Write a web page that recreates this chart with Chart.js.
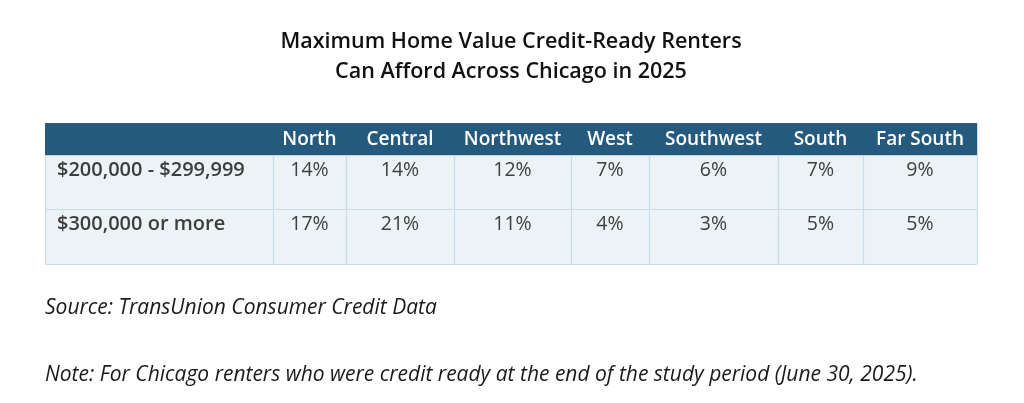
<!DOCTYPE html>
<html>
<head>
<meta charset="utf-8">
<script src="https://cdn.jsdelivr.net/npm/chart.js@4.4.1/dist/chart.umd.min.js"></script>
<style>
  html, body { margin: 0; padding: 0; background: #ffffff; }
  #wrap { width: 1024px; height: 403px; }
</style>
</head>
<body>
<div id="wrap"><canvas id="c" width="1024" height="403"></canvas></div>
<script>
// ---- data ----
const titleLines = ['Maximum Home Value Credit-Ready Renters', 'Can Afford Across Chicago in 2025'];
const regions = ['North', 'Central', 'Northwest', 'West', 'Southwest', 'South', 'Far South'];
const rowLabels = ['$200,000 - $299,999', '$300,000 or more'];
const values200to299 = [14, 14, 12, 7, 6, 7, 9];
const values300plus = [17, 21, 11, 4, 3, 5, 5];
const sourceText = 'Source: TransUnion Consumer Credit Data';
const noteText = 'Note: For Chicago renters who were credit ready at the end of the study period (June 30, 2025).';

// ---- layout (table units) ----
const colWidths = [228, 73, 108, 117, 78, 129, 85, 114];
const rowHeights = [32, 54, 55];
const colEdges = [0];
colWidths.forEach(w => colEdges.push(colEdges[colEdges.length - 1] + w));
const rowEdges = [0];
rowHeights.forEach(h => rowEdges.push(rowEdges[rowEdges.length - 1] + h));
const tableW = colEdges[colEdges.length - 1];
const tableH = rowEdges[rowEdges.length - 1];

const FONT = '"Open Sans", Roboto, sans-serif';
const seriesRows = [values200to299, values300plus];

const datasets = seriesRows.map((vals, r) => ({
  label: rowLabels[r],
  data: vals.map((v, i) => ({ x: (colEdges[i + 1] + colEdges[i + 2]) / 2, y: rowEdges[r + 1] + 15.5, v: v })),
  pointRadius: 0,
  pointHoverRadius: 0,
  showLine: false
}));

const tablePlugin = {
  id: 'tablePlugin',
  beforeDatasetsDraw(chart) {
    const { ctx, scales: { x, y } } = chart;
    ctx.save();
    ctx.fillStyle = '#ebf3f7';
    ctx.fillRect(x.getPixelForValue(0), y.getPixelForValue(rowEdges[1]),
      x.getPixelForValue(tableW) - x.getPixelForValue(0),
      y.getPixelForValue(tableH) - y.getPixelForValue(rowEdges[1]));
    ctx.strokeStyle = '#c9dce8';
    ctx.lineWidth = 1.2;
    for (let r = 1; r < rowEdges.length; r++) {
      const py = Math.round(y.getPixelForValue(rowEdges[r])) + 0.5;
      ctx.beginPath(); ctx.moveTo(x.getPixelForValue(0), py); ctx.lineTo(x.getPixelForValue(tableW), py); ctx.stroke();
    }
    for (let c = 0; c < colEdges.length; c++) {
      const px = Math.round(x.getPixelForValue(colEdges[c])) + 0.5;
      ctx.beginPath(); ctx.moveTo(px, y.getPixelForValue(0)); ctx.lineTo(px, y.getPixelForValue(tableH)); ctx.stroke();
    }
    ctx.beginPath(); ctx.moveTo(x.getPixelForValue(0), y.getPixelForValue(0) + 0.5); ctx.lineTo(x.getPixelForValue(tableW), y.getPixelForValue(0) + 0.5); ctx.stroke();
    ctx.fillStyle = '#255a7e';
    ctx.fillRect(x.getPixelForValue(0), y.getPixelForValue(0),
      x.getPixelForValue(tableW) - x.getPixelForValue(0),
      y.getPixelForValue(rowEdges[1]) - y.getPixelForValue(0));
    ctx.fillStyle = '#ffffff';
    ctx.font = '600 19px ' + FONT;
    ctx.textAlign = 'center';
    ctx.textBaseline = 'middle';
    regions.forEach((name, i) => {
      const cx = x.getPixelForValue((colEdges[i + 1] + colEdges[i + 2]) / 2);
      ctx.fillText(name, cx, y.getPixelForValue(16.5));
    });
    ctx.fillStyle = '#3d3d3d';
    ctx.font = '600 20px ' + FONT;
    ctx.textAlign = 'left';
    rowLabels.forEach((lab, r) => {
      ctx.fillText(lab, x.getPixelForValue(12), y.getPixelForValue(rowEdges[r + 1] + 15.5));
    });
    ctx.restore();
  },
  afterDatasetsDraw(chart) {
    const { ctx } = chart;
    ctx.save();
    ctx.fillStyle = '#404040';
    ctx.font = '400 19.5px ' + FONT;
    ctx.textAlign = 'center';
    ctx.textBaseline = 'middle';
    chart.data.datasets.forEach((ds, di) => {
      const meta = chart.getDatasetMeta(di);
      meta.data.forEach((el, i) => {
        ctx.fillText(ds.data[i].v + '%', el.x, el.y);
      });
    });
    ctx.restore();
  }
};

new Chart(document.getElementById('c'), {
  type: 'scatter',
  data: { datasets },
  options: {
    responsive: false,
    animation: false,
    devicePixelRatio: 1,
    layout: { padding: { left: 45, right: 47, top: 0, bottom: 0 } },
    scales: {
      x: { type: 'linear', display: false, min: 0, max: tableW },
      y: { type: 'linear', display: false, min: 0, max: tableH, reverse: true }
    },
    plugins: {
      legend: { display: false },
      tooltip: { enabled: false },
      title: {
        display: true,
        text: titleLines,
        color: '#111111',
        font: { family: FONT, size: 21.5, weight: '600', lineHeight: 1.42 },
        padding: { top: 26.5, bottom: 35.5 }
      },
      subtitle: {
        display: true,
        position: 'bottom',
        align: 'start',
        text: [sourceText, '', noteText],
        color: '#1a1a1a',
        font: { family: FONT, size: 21, style: 'italic', weight: '400', lineHeight: 1.583 },
        padding: { top: 27.4, bottom: 11.85 }
      }
    }
  },
  plugins: [tablePlugin]
});
</script>
</body>
</html>
